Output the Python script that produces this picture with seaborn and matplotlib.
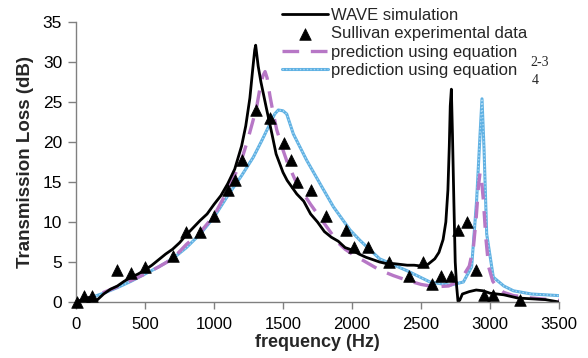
import numpy as np
import pandas as pd
import matplotlib
matplotlib.use("Agg")
import matplotlib.pyplot as plt
import seaborn as sns
from matplotlib.legend_handler import HandlerTuple

# ---- data ----
wave_freq = [0, 50, 100, 150, 200, 250, 300, 350, 400, 450, 500, 550, 600, 650, 700, 750,
             800, 850, 900, 950, 1000, 1050, 1100, 1150, 1200, 1230, 1260, 1280, 1295, 1302,
             1320, 1340, 1380, 1420, 1450, 1500, 1530, 1600, 1650, 1700, 1750, 1800, 1850,
             1900, 1950, 2000, 2050, 2100, 2150, 2200, 2250, 2300, 2350, 2400, 2450, 2500,
             2550, 2600, 2630, 2660, 2680, 2695, 2705, 2712, 2720, 2728, 2738, 2748, 2758,
             2768, 2780, 2800, 2850, 2900, 2950, 3000, 3050, 3100, 3200, 3300, 3400, 3500]
wave_tl = [0, 0.3, 0.6, 0.2, 1.0, 1.6, 2.0, 2.6, 3.1, 3.5, 4.0, 4.6, 5.3, 6.0, 6.6, 7.4,
           8.4, 9.3, 10.2, 11.0, 12.2, 13.3, 14.8, 16.6, 19.5, 22.0, 25.5, 29.0, 31.5, 32.1,
           29.5, 27.5, 24.2, 21.0, 18.5, 16.2, 15.2, 13.5, 12.6, 11.0, 10.0, 8.8, 8.1,
           7.6, 6.8, 6.5, 6.0, 5.6, 5.3, 5.0, 4.8, 4.8, 4.7, 4.6, 4.6, 4.5,
           4.7, 5.4, 6.2, 7.8, 10.0, 14.0, 19.5, 24.5, 26.6, 21.0, 12.7, 5.0, 2.0,
           0.1, 0.2, 1.0, 1.3, 1.5, 1.4, 1.1, 1.0, 0.9, 0.5, 0.4, 0.3, 0.0]

exp_freq = [10, 55, 115, 300, 400, 500, 705, 800, 900, 1000, 1100, 1155, 1200, 1305, 1405,
            1505, 1555, 1605, 1705, 1810, 1960, 2015, 2115, 2270, 2415, 2515, 2580, 2645,
            2715, 2770, 2835, 2895, 2955, 3020, 3220]
exp_tl = [0.0, 0.8, 0.7, 4.0, 3.6, 4.4, 5.8, 8.8, 8.8, 10.8, 14.0, 15.3, 17.8, 24.0, 23.0,
          19.9, 17.8, 15.0, 14.0, 10.8, 9.0, 6.9, 6.9, 5.0, 3.3, 5.0, 2.3, 3.3,
          3.3, 9.0, 10.0, 4.0, 0.9, 0.9, 0.3]

eq23_freq = [0, 100, 200, 300, 400, 500, 600, 700, 800, 900, 1000, 1100, 1150, 1200, 1240,
             1280, 1310, 1335, 1355, 1370, 1385, 1405, 1430, 1455, 1500, 1530, 1600, 1700,
             1800, 1900, 1950, 2000, 2100, 2200, 2300, 2400, 2500, 2600, 2700, 2750, 2800,
             2850, 2880, 2900, 2916, 2928, 2940, 2952, 2970, 2990, 3020, 3050, 3100, 3170,
             3300, 3500]
eq23_tl = [0, 0.5, 1.2, 1.9, 2.7, 3.5, 4.4, 5.4, 7.2, 8.7, 10.8, 14.0, 15.8, 17.8, 20.0,
           22.5, 24.5, 26.9, 28.3, 28.8, 28.0, 25.8, 23.5, 21.5, 19.0, 17.5, 14.8, 12.2,
           9.8, 7.4, 6.6, 6.0, 5.0, 4.0, 3.3, 2.7, 2.2, 1.9, 2.0, 2.4, 3.1,
           4.5, 6.9, 10.5, 14.4, 16.2, 15.0, 12.7, 8.0, 4.4, 2.6, 1.9, 1.2, 0.8,
           0.5, 0.2]

eq4_freq = [0, 100, 200, 300, 400, 500, 600, 700, 800, 900, 1000, 1100, 1200, 1285, 1350,
            1406, 1440, 1466, 1500, 1527, 1575, 1672, 1768, 1865, 1986, 2058, 2200, 2400,
            2565, 2710, 2807, 2867, 2903, 2928, 2942, 2957, 2976, 3024, 3100, 3170, 3300,
            3500]
eq4_tl = [0, 0.5, 1.1, 1.8, 2.6, 3.5, 4.4, 5.4, 6.8, 8.5, 10.6, 13.3, 15.8, 18.1, 20.3,
          22.3, 23.5, 24.0, 23.9, 23.5, 21.0, 17.7, 14.8, 11.9, 9.0, 7.7, 5.4, 3.9,
          2.5, 2.1, 2.5, 4.4, 12.7, 21.0, 25.4, 19.0, 8.5, 3.1, 2.0, 1.4, 1.0,
          0.8]

x_ticks = [0, 500, 1000, 1500, 2000, 2500, 3000, 3500]
y_ticks = [0, 5, 10, 15, 20, 25, 30, 35]

legend_labels = ["WAVE simulation", "Sullivan experimental data",
                 "prediction using equation", "prediction using equation"]
eq_suffix = ["2-3", "4"]

# ---- style ----
sns.set_style("ticks")
plt.rcParams['font.family'] = ['Liberation Sans', 'DejaVu Sans']

fig = plt.figure(figsize=(5.88, 3.58), dpi=100)
ax = fig.add_axes([76/588, 56/358, 483/588, 280/358])

purple = "#b777c6"
blue = "#5fb1e3"

sns.lineplot(x=eq4_freq, y=eq4_tl, ax=ax, color=blue, linewidth=2.2,
             sort=False, estimator=None)
ln_eq4_under = ax.lines[-1]
sns.lineplot(x=eq4_freq, y=eq4_tl, ax=ax, color="#a9d7f3", linewidth=1.0,
             linestyle=(0, (1, 1.5)), sort=False, estimator=None)
ln_eq4_over = ax.lines[-1]
sns.lineplot(x=eq23_freq, y=eq23_tl, ax=ax, color=purple, linewidth=2.4,
             linestyle=(0, (5, 3.5)), sort=False, estimator=None)
ln_eq23 = ax.lines[-1]
sns.lineplot(x=wave_freq, y=wave_tl, ax=ax, color="black", linewidth=2.0,
             sort=False, estimator=None)
ln_wave = ax.lines[-1]
sns.scatterplot(x=exp_freq, y=exp_tl, ax=ax, marker="^", s=70, color="black",
                edgecolor="black", linewidth=0.5, zorder=5, clip_on=False)
sc_exp = ax.collections[-1]

ax.set_xlim(0, 3500)
ax.set_ylim(0, 35)
ax.set_xticks(x_ticks)
ax.set_yticks(y_ticks)
ax.tick_params(axis='x', labelsize=12, colors="#808080", labelcolor="black",
               length=5, width=1, direction='out', pad=6)
ax.tick_params(axis='y', labelsize=12.5, colors="#808080", labelcolor="black",
               length=6, width=1, direction='out', pad=4)
for s in ["top", "right"]:
    ax.spines[s].set_visible(False)
for s in ["left", "bottom"]:
    ax.spines[s].set_color("#808080")
    ax.spines[s].set_linewidth(1.0)

ax.set_xlabel("frequency (Hz)", fontsize=13, fontweight="bold", labelpad=1)
ax.set_ylabel("Transmission Loss (dB)", fontsize=13.5, fontweight="bold", labelpad=6)

h_eq4 = (ln_eq4_under, ln_eq4_over)
leg = fig.legend([ln_wave, sc_exp, ln_eq23, h_eq4], legend_labels,
                 loc="upper left", bbox_to_anchor=(282/588, 1 - 8/358),
                 frameon=False, fontsize=12, borderpad=0, borderaxespad=0,
                 handlelength=2.75, handletextpad=0.2, labelspacing=0.2,
                 handler_map={tuple: HandlerTuple(ndivide=1, pad=0)})

fig.text(530/588, 1 - 63/358, eq_suffix[0], fontsize=10, family=['Liberation Serif'],
         ha="left", va="center")
fig.text(532/588, 1 - 81/358, eq_suffix[1], fontsize=10, family=['Liberation Serif'],
         ha="left", va="center")

fig.savefig("out.png", dpi=100)
